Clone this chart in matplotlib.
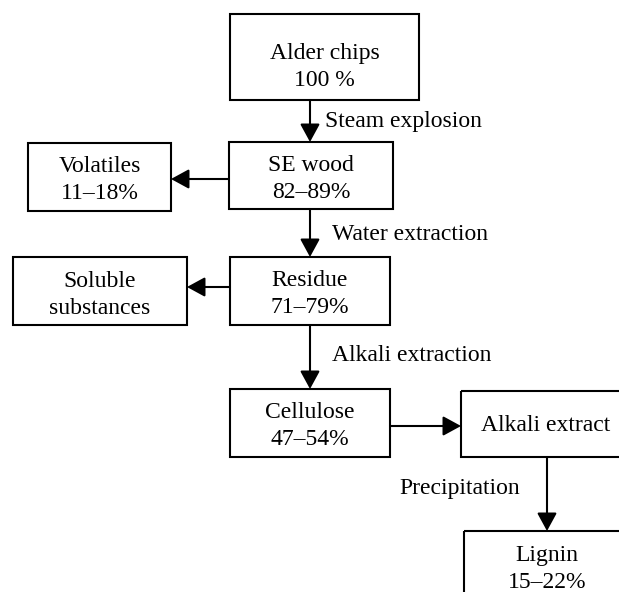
import matplotlib.pyplot as plt
from matplotlib.patches import Rectangle, FancyArrowPatch

plt.rcParams['font.family'] = ['Liberation Serif', 'DejaVu Serif']

# box texts (two lines each, one for the alkali extract)
names = ['Alder chips', 'SE wood', 'Volatiles', 'Residue', 'Soluble',
         'Cellulose', 'Alkali extract', 'Lignin']
amounts = ['100 %', '82\u201389%', '11\u201318%', '71\u201379%', 'substances',
           '47\u201354%', '', '15\u201322%']
steps = ['Steam explosion', 'Water extraction', 'Alkali extraction', 'Precipitation']

# layout in pixels (x0, y0, x1, y1), y going down
boxes = [(230, 14, 419, 100), (229, 142, 393, 209), (28, 143, 171, 211),
         (230, 257, 390, 325), (13, 257, 187, 325), (230, 389, 390, 457),
         (461, 391, 630, 457), (464, 531, 630, 610)]
base1 = [59, 171, 172, 286, 287, 418, 431, 561]
spacing = 27
arrows = [((310, 100), (310, 142)), ((229, 179), (171, 179)),
          ((310, 209), (310, 257)), ((230, 287), (187, 287)),
          ((310, 325), (310, 389)), ((390, 426), (461, 426)),
          ((547, 457), (547, 531))]
step_pos = [(325, 127), (332, 240), (332, 361), (399, 494)]

fig = plt.figure(figsize=(6.19, 5.92), dpi=100)
ax = fig.add_axes([0, 0, 1, 1])
ax.set_xlim(0, 619)
ax.set_ylim(592, 0)
ax.axis('off')

fs = 17
for (x0, y0, x1, y1), n, a, b in zip(boxes, names, amounts, base1):
    ax.add_patch(Rectangle((x0, y0), x1 - x0, y1 - y0, fill=False,
                           edgecolor='black', lw=1.5, clip_on=False))
    cx = (x0 + x1) / 2
    ax.text(cx, b, n, ha='center', va='baseline', fontsize=fs)
    if a:
        ax.text(cx, b + spacing, a, ha='center', va='baseline', fontsize=fs)

for p0, p1 in arrows:
    ax.add_patch(FancyArrowPatch(p0, p1, arrowstyle='-|>,head_length=11,head_width=6',
                                 mutation_scale=1, color='black', lw=1.5,
                                 shrinkA=0, shrinkB=0))

for s, (x, y) in zip(steps, step_pos):
    ax.text(x, y, s, ha='left', va='baseline', fontsize=fs)

fig.savefig('out.png', dpi=100)
